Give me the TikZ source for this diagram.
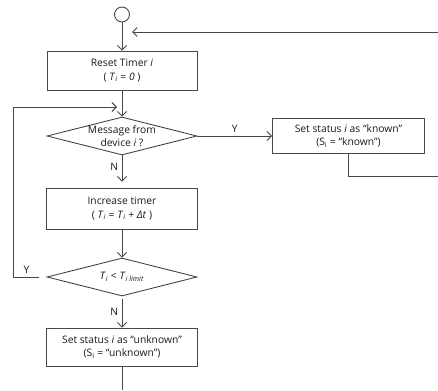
\documentclass[tikz,border=0pt]{standalone}
\usepackage{fontspec}
\setmainfont{Open Sans}
\usetikzlibrary{shapes.geometric, positioning, arrows.meta}
\definecolor{linegray}{HTML}{474747}
\newcommand{\Tsub}{\textit{T}\textsubscript{\textit{i}}}
\tikzset{
  >={Straight Barb[length=4.5pt,width=9pt]},
  every node/.style={font=\fontsize{10.3}{13.5}\selectfont, text=black!90},
  box/.style={draw=linegray, rectangle, align=center, inner sep=0pt},
  decision/.style={draw=linegray, diamond, aspect=4, inner sep=0pt,
    minimum width=150pt, minimum height=38pt},
}

\begin{document}
\begin{tikzpicture}[x=1pt, y=1pt, line width=0.9pt, color=linegray]
  \useasboundingbox (0,0) rectangle (438,-390);

  \node[draw=linegray, circle, minimum size=15pt, inner sep=0pt] (start) at (122,-14.5) {};
  \node[box, node distance=56pt, below of=start, minimum width=150pt, minimum height=39pt] (reset)
    {Reset Timer \textit{i}\\( \Tsub{} = \textit{0} )};
  \node[decision, node distance=65.5pt, below of=reset,
    label={[align=center]center:Message from\\device \textit{i} ?}] (msg) {};
  \node[box, node distance=226.5pt, right of=msg, minimum width=152pt, minimum height=35pt] (known)
    {Set status \textit{i} as “known”\\(S\textsubscript{i} = “known”)};
  \node[box, node distance=72.5pt, below of=msg, minimum width=151pt, minimum height=41pt] (incr)
    {Increase timer\\( \Tsub{} = \Tsub{} + \textit{Δt} )};
  \node[decision, node distance=68.5pt, below of=incr,
    label={center:\Tsub{} < \textit{T}\textsubscript{\textit{i limit}}}] (check) {};
  \node[box, node distance=70pt, below of=check, minimum width=151pt, minimum height=38pt] (unknown)
    {Set status \textit{i} as “unknown”\\(S\textsubscript{i} = “unknown”)};

  \coordinate (fbIn) at (438,-32);
  \coordinate (knownOut) at (438,-176);
  \coordinate (loopL) at (13,-107);
  \coordinate (endB) at (unknown.south |- 0,-390);

  \draw[->] (start) -- (reset);
  \draw[->, shorten >=10pt] (fbIn) -- (fbIn -| start);
  \draw[->] (reset) -- (msg);
  \draw[->] (msg) -- node[above]{Y} (known);
  \draw[->, shorten >=6pt] (msg) -- node[left, pos=0.35]{N} (incr);
  \draw (known) |- (knownOut);
  \draw[->] (incr) -- (check);
  \draw[->, shorten <=3pt] (check) -- node[left]{N} (unknown);
  \draw[->, shorten <=8pt, shorten >=5pt] (check.west) -- node[above, pos=0.6]{Y} (check.west -| loopL)
    |- (reset.south |- loopL);
  \draw (unknown) -- (endB);
\end{tikzpicture}
\end{document}
